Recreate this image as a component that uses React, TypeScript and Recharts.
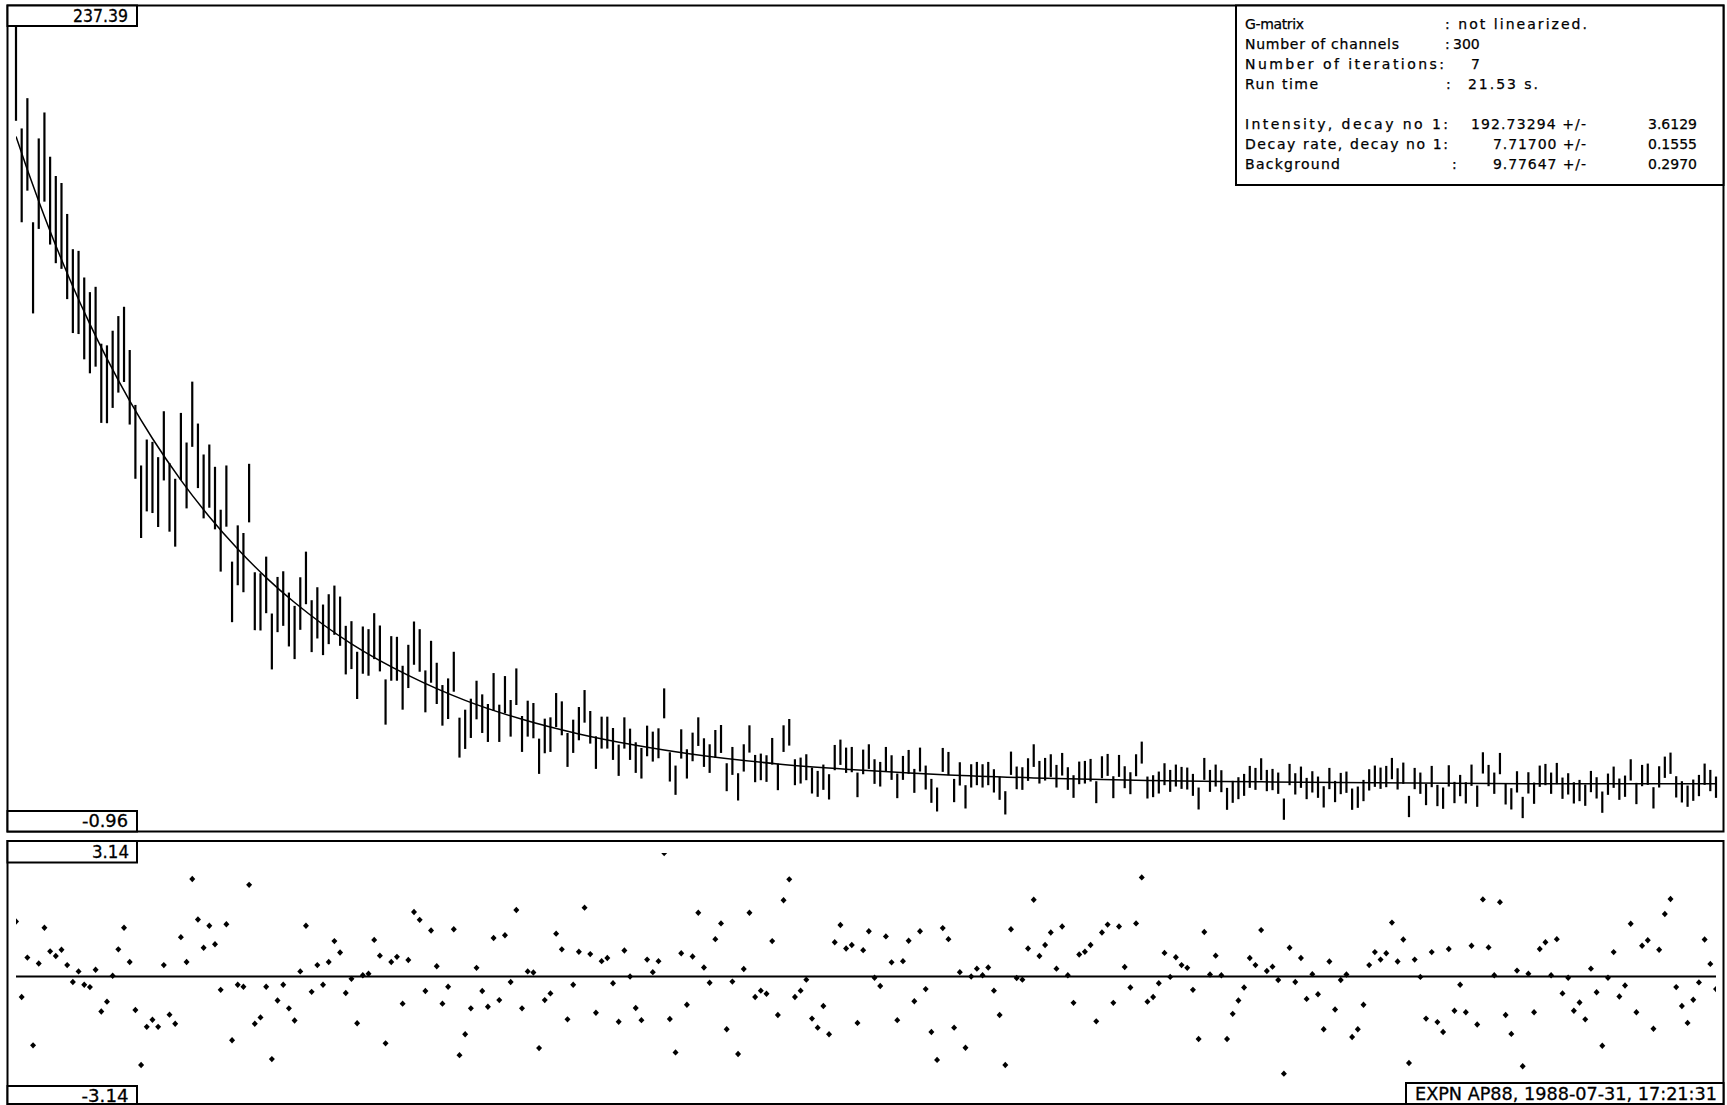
import React from 'react';
import { ComposedChart, Scatter, Line, XAxis, YAxis, ErrorBar, ReferenceLine } from 'recharts';

// Measured counts per channel (centre of each error bar), channels 1..300
const counts = [
  223.3, 192.8, 202.1, 165.0, 190.3, 198.3, 185.2, 179.5, 177.6, 168.4,
  158.0, 157.6, 149.8, 145.5, 147.3, 130.3, 130.0, 134.5, 139.0, 142.0,
  129.1, 112.7, 94.7, 102.6, 102.0, 97.6, 111.5, 96.0, 91.4, 111.3,
  102.6, 121.0, 108.5, 99.3, 102.4, 95.8, 83.0, 96.4, 67.6, 78.6,
  76.4, 97.3, 64.8, 64.6, 69.7, 52.7, 63.8, 65.6, 59.3, 55.4,
  64.1, 71.8, 57.3, 61.3, 56.2, 59.4, 62.1, 58.8, 50.1, 51.6,
  42.5, 50.1, 49.4, 54.3, 50.6, 34.5, 47.6, 47.5, 38.8, 45.2,
  52.2, 50.0, 37.7, 46.6, 40.1, 33.5, 35.5, 43.6, 23.8, 26.3,
  29.6, 35.1, 31.0, 28.2, 37.5, 28.1, 36.7, 29.6, 39.1, 24.9,
  29.5, 28.9, 18.2, 24.3, 24.7, 32.1, 29.6, 20.1, 24.2, 28.0,
  33.2, 26.9, 19.3, 25.3, 25.3, 21.9, 17.0, 25.2, 21.8, 17.8,
  16.1, 22.8, 21.1, 22.1, 34.1, 15.0, 11.0, 21.9, 15.9, 21.0,
  25.6, 19.3, 17.5, 21.9, 23.4, 11.9, 16.8, 9.0, 17.7, 23.4,
  14.5, 15.0, 14.5, 19.7, 12.0, 23.5, 25.4, 13.4, 13.9, 14.9,
  10.9, 9.9, 11.9, 9.0, 17.8, 19.4, 17.0, 17.2, 9.6, 16.5,
  18.1, 13.6, 12.8, 17.3, 14.8, 9.3, 14.7, 16.5, 10.8, 17.2,
  11.8, 7.8, 5.2, 17.1, 16.0, 7.9, 12.9, 6.0, 12.3, 13.0,
  12.3, 13.0, 10.8, 8.6, 4.2, 16.1, 11.7, 11.5, 14.2, 18.4,
  13.4, 14.3, 15.4, 12.2, 15.8, 11.5, 9.1, 13.2, 13.4, 14.0,
  7.4, 14.9, 15.6, 8.9, 15.3, 11.9, 10.1, 15.5, 19.3, 8.8,
  9.2, 10.3, 12.8, 10.8, 12.4, 11.7, 11.5, 9.6, 5.5, 14.4,
  10.8, 12.4, 10.7, 5.4, 7.5, 8.6, 9.6, 12.0, 11.4, 14.3,
  10.9, 11.2, 10.1, 2.3, 12.7, 9.9, 11.9, 8.5, 10.5, 8.9,
  6.0, 11.5, 7.6, 10.0, 10.4, 5.3, 5.9, 7.9, 11.1, 12.2,
  11.6, 12.1, 14.5, 11.4, 13.1, 3.1, 11.5, 10.1, 6.7, 12.1,
  6.4, 5.6, 12.3, 7.3, 9.4, 7.2, 12.5, 6.2, 16.2, 12.4,
  10.1, 16.0, 6.9, 5.4, 10.5, 2.8, 10.2, 7.1, 12.2, 12.7,
  10.1, 13.0, 8.6, 9.9, 7.2, 7.9, 6.5, 10.6, 8.7, 4.4,
  9.8, 11.9, 8.3, 9.2, 14.1, 7.0, 12.4, 12.8, 5.7, 12.0,
  14.9, 16.1, 9.0, 7.5, 6.2, 8.0, 9.4, 12.8, 10.9, 8.9,
];

// Half-length of each error bar
const errors = [
  14.1, 14.1, 13.9, 13.7, 13.6, 13.4, 13.2, 13.1, 12.9, 12.8,
  12.6, 12.5, 12.3, 12.2, 12.0, 11.9, 11.7, 11.6, 11.5, 11.3,
  11.2, 11.1, 10.9, 10.8, 10.7, 10.5, 10.4, 10.3, 10.2, 10.1,
  9.9, 9.8, 9.7, 9.6, 9.5, 9.4, 9.3, 9.2, 9.1, 9.0,
  8.9, 8.8, 8.7, 8.6, 8.5, 8.4, 8.3, 8.2, 8.1, 8.0,
  7.9, 7.9, 7.8, 7.7, 7.6, 7.5, 7.4, 7.4, 7.3, 7.2,
  7.1, 7.1, 7.0, 6.9, 6.9, 6.8, 6.7, 6.6, 6.6, 6.5,
  6.5, 6.4, 6.3, 6.3, 6.2, 6.1, 6.1, 6.0, 6.0, 5.9,
  5.9, 5.8, 5.8, 5.7, 5.7, 5.6, 5.6, 5.5, 5.5, 5.4,
  5.4, 5.3, 5.3, 5.2, 5.2, 5.1, 5.1, 5.1, 5.0, 5.0,
  4.9, 4.9, 4.9, 4.8, 4.8, 4.8, 4.7, 4.7, 4.7, 4.6,
  4.6, 4.6, 4.5, 4.5, 4.5, 4.4, 4.4, 4.4, 4.4, 4.3,
  4.3, 4.3, 4.3, 4.2, 4.2, 4.2, 4.2, 4.1, 4.1, 4.1,
  4.1, 4.0, 4.0, 4.0, 4.0, 4.0, 4.0, 3.9, 3.9, 3.9,
  3.9, 3.9, 3.8, 3.8, 3.8, 3.8, 3.8, 3.8, 3.7, 3.7,
  3.7, 3.7, 3.7, 3.7, 3.7, 3.7, 3.6, 3.6, 3.6, 3.6,
  3.6, 3.6, 3.6, 3.6, 3.5, 3.5, 3.5, 3.5, 3.5, 3.5,
  3.5, 3.5, 3.5, 3.5, 3.5, 3.5, 3.4, 3.4, 3.4, 3.4,
  3.4, 3.4, 3.4, 3.4, 3.4, 3.4, 3.4, 3.4, 3.4, 3.4,
  3.3, 3.3, 3.3, 3.3, 3.3, 3.3, 3.3, 3.3, 3.3, 3.3,
  3.3, 3.3, 3.3, 3.3, 3.3, 3.3, 3.3, 3.3, 3.3, 3.3,
  3.3, 3.3, 3.3, 3.3, 3.3, 3.3, 3.3, 3.3, 3.3, 3.3,
  3.2, 3.2, 3.2, 3.2, 3.2, 3.2, 3.2, 3.2, 3.2, 3.2,
  3.2, 3.2, 3.2, 3.2, 3.2, 3.2, 3.2, 3.2, 3.2, 3.2,
  3.2, 3.2, 3.2, 3.2, 3.2, 3.2, 3.2, 3.2, 3.2, 3.2,
  3.2, 3.2, 3.2, 3.2, 3.2, 3.2, 3.2, 3.2, 3.2, 3.2,
  3.2, 3.2, 3.2, 3.2, 3.2, 3.2, 3.2, 3.2, 3.2, 3.2,
  3.2, 3.2, 3.2, 3.2, 3.2, 3.2, 3.2, 3.2, 3.2, 3.2,
  3.2, 3.2, 3.2, 3.2, 3.2, 3.2, 3.2, 3.2, 3.2, 3.2,
  3.2, 3.2, 3.2, 3.2, 3.2, 3.2, 3.2, 3.2, 3.2, 3.2,
];

// Weighted residuals per channel (lower panel)
const residuals = [
  1.40, -0.52, 0.48, -1.75, 0.33, 1.24, 0.64, 0.52, 0.68, 0.29,
  -0.14, 0.13, -0.21, -0.27, 0.17, -0.89, -0.64, 0.02, 0.69, 1.24,
  0.37, -0.85, -2.25, -1.28, -1.10, -1.28, 0.29, -0.97, -1.20, 1.00,
  0.37, 2.48, 1.45, 0.73, 1.29, 0.82, -0.34, 1.33, -1.62, -0.21,
  -0.26, 2.33, -1.20, -1.04, -0.26, -2.10, -0.61, -0.21, -0.81, -1.12,
  0.13, 1.29, -0.39, 0.29, -0.21, 0.37, 0.90, 0.61, -0.42, -0.06,
  -1.19, 0.03, 0.07, 0.93, 0.53, -1.70, 0.37, 0.50, -0.69, 0.42,
  1.64, 1.44, -0.37, 1.17, 0.26, -0.69, -0.26, 1.20, -2.00, -1.47,
  -0.81, 0.22, -0.37, -0.77, 0.98, -0.60, 1.05, -0.14, 1.69, -0.81,
  0.13, 0.10, -1.82, -0.60, -0.43, 1.09, 0.69, -1.09, -0.21, 0.63,
  1.75, 0.57, -0.92, 0.39, 0.47, -0.17, -1.15, 0.66, 0.00, -0.80,
  -1.11, 0.43, 0.11, 0.39, 3.14, -1.08, -1.93, 0.59, -0.72, 0.51,
  1.62, 0.23, -0.16, 0.95, 1.35, -1.34, -0.13, -1.97, 0.19, 1.62,
  -0.52, -0.36, -0.44, 0.90, -0.98, 1.94, 2.47, -0.52, -0.36, -0.08,
  -1.07, -1.30, -0.75, -1.47, 0.87, 1.31, 0.71, 0.80, -1.18, 0.67,
  1.15, -0.03, -0.24, 1.02, 0.36, -1.11, 0.39, 0.91, -0.63, 1.15,
  -0.32, -1.41, -2.12, 1.23, 0.95, -1.30, 0.11, -1.81, 0.00, 0.20,
  0.03, 0.23, -0.36, -0.98, -2.25, 1.20, -0.04, -0.08, 0.71, 1.95,
  0.52, 0.80, 1.12, 0.20, 1.27, 0.03, -0.67, 0.56, 0.63, 0.80,
  -1.14, 1.12, 1.32, -0.67, 1.27, 0.24, -0.28, 1.35, 2.52, -0.64,
  -0.52, -0.17, 0.60, -0.01, 0.49, 0.29, 0.22, -0.34, -1.59, 1.13,
  0.05, 0.53, 0.03, -1.59, -0.95, -0.61, -0.28, 0.47, 0.29, 1.18,
  0.14, 0.25, -0.09, -2.47, 0.73, -0.14, 0.47, -0.57, 0.06, -0.45,
  -1.34, 0.38, -0.84, -0.09, 0.05, -1.54, -1.34, -0.72, 0.29, 0.62,
  0.43, 0.59, 1.37, 0.38, 0.94, -2.20, 0.43, -0.01, -1.07, 0.62,
  -1.16, -1.41, 0.70, -0.87, -0.21, -0.91, 0.78, -1.22, 1.96, 0.74,
  0.03, 1.89, -0.98, -1.46, 0.15, -2.28, 0.07, -0.91, 0.70, 0.87,
  0.03, 0.95, -0.43, -0.03, -0.87, -0.66, -1.09, 0.20, -0.40, -1.76,
  -0.03, 0.62, -0.51, -0.23, 1.34, -0.91, 0.78, 0.92, -1.33, 0.68,
  1.59, 1.97, -0.27, -0.75, -1.18, -0.59, -0.15, 0.94, 0.32, -0.32,
];

// Fitted decay curve read at selected channels
const fitChannels = [1, 3, 5, 7, 9, 11, 14, 17, 21, 25, 30, 35, 40, 45, 50, 55, 60, 70, 80, 90, 100, 110, 120, 135, 150, 165, 180, 200, 220, 240, 260, 280, 300];
const fitValues = [204.5, 194.5, 185.0, 176.0, 167.5, 159.4, 148.1, 137.7, 125.0, 113.7, 101.2, 90.2, 80.5, 71.9, 64.4, 57.8, 52.0, 42.5, 35.0, 29.3, 24.9, 21.5, 18.8, 15.9, 14.0, 12.6, 11.7, 10.9, 10.5, 10.2, 10.0, 9.9, 9.9];

const channelRange = [1, 300];
const topRange = [-0.96, 237.39];
const topLabels = ['237.39', '-0.96'];
const resRange = [-3.14, 3.14];
const resLabels = ['3.14', '-3.14'];
const stamp = 'EXPN AP88, 1988-07-31, 17:21:31';

const barData = counts.map((c, i) => ({ ch: i + 1, c, e: errors[i] }));
const resData = residuals.map((r, i) => ({ ch: i + 1, r }));
const fitData = fitChannels.map((ch, i) => ({ ch, f: fitValues[i] }));

const FONT = '"DejaVu Sans", sans-serif';

const EmptyShape = () => <g />;
const Diamond = (p: any) => {
  const { cx, cy } = p;
  if (cx == null || cy == null) return <g />;
  return <path d={`M${cx},${cy - 3.2}L${cx + 3},${cy}L${cx},${cy + 3.2}L${cx - 3},${cy}Z`} fill="#000" />;
};

// fixed-width label (box labels)
const T = ({ x, y, len, children, size = 17 }: any) => (
  <text x={x} y={y} fontFamily={FONT} fontSize={size} fill="#000" stroke="#000" strokeWidth={0.3} textLength={len} lengthAdjust="spacingAndGlyphs">
    {children}
  </text>
);

// info-box text: glyphs keep their shape, letter spacing widened to the given length
const I = ({ x, y, len, end, children }: any) => (
  <text
    x={x}
    y={y}
    fontFamily={FONT}
    fontSize={14}
    fill="#000"
    stroke="#000"
    strokeWidth={0.25}
    textAnchor={end ? 'end' : 'start'}
    {...(len ? { textLength: len, lengthAdjust: 'spacing' } : {})}
  >
    {children}
  </text>
);

const rows = [28.5, 48.6, 68.7, 88.8, 129.0, 149.1, 169.2];

export default function App() {
  const W = 1727;
  const H = 1105;
  return (
    <div style={{ position: 'absolute', left: 0, top: 0, width: W, height: H, background: '#fff', overflow: 'hidden' }}>
      <div style={{ position: 'absolute', left: 0, top: 0 }}>
        <ComposedChart width={W} height={832} margin={{ top: 27, right: 11, bottom: 12, left: 16 }}>
          <XAxis type="number" dataKey="ch" domain={channelRange} hide allowDataOverflow />
          <YAxis type="number" domain={topRange} hide allowDataOverflow />
          <Scatter data={barData} dataKey="c" shape={EmptyShape} isAnimationActive={false}>
            <ErrorBar dataKey="e" width={0} stroke="#000" strokeWidth={2.2} direction="y" isAnimationActive={false} />
          </Scatter>
          <Line data={fitData} dataKey="f" type="monotone" dot={false} stroke="#000" strokeWidth={1.5} isAnimationActive={false} />
        </ComposedChart>
      </div>
      <div style={{ position: 'absolute', left: 0, top: 0 }}>
        <ComposedChart width={W} height={H} margin={{ top: 853, right: 11, bottom: 5, left: 16 }}>
          <XAxis type="number" dataKey="ch" domain={channelRange} hide allowDataOverflow />
          <YAxis type="number" domain={resRange} hide allowDataOverflow />
          <ReferenceLine y={0} stroke="#000" strokeWidth={2} />
          <Scatter data={resData} dataKey="r" shape={Diamond} isAnimationActive={false} />
        </ComposedChart>
      </div>
      <svg width={W} height={H} style={{ position: 'absolute', left: 0, top: 0, pointerEvents: 'none' }}>
        <g fill="none" stroke="#000" strokeWidth={2}>
          <rect x={7.5} y={5.5} width={1716} height={826} />
          <rect x={7.5} y={841} width={1716} height={263} />
          <rect x={7.5} y={5.5} width={129.5} height={20.5} fill="#fff" />
          <rect x={7.5} y={811} width={129.5} height={20.5} fill="#fff" />
          <rect x={7.5} y={841} width={129.5} height={21.5} fill="#fff" />
          <rect x={7.5} y={1086} width={129.5} height={18} fill="#fff" />
          <rect x={1406} y={1083} width={317.5} height={21} fill="#fff" />
          <rect x={1236} y={5.5} width={487.5} height={179.5} fill="#fff" />
        </g>
        <T x={73} y={21.7} len={55}>{topLabels[0]}</T>
        <T x={82} y={827} len={46}>{topLabels[1]}</T>
        <T x={92} y={858} len={37}>{resLabels[0]}</T>
        <T x={81.5} y={1101.5} len={47}>{resLabels[1]}</T>
        <T x={1415} y={1100} len={302}>{stamp}</T>

        <I x={1245} y={rows[0]} len={59}>G-matrix</I>
        <I x={1445} y={rows[0]} len={142}>: not linearized.</I>
        <I x={1245} y={rows[1]} len={154}>Number of channels</I>
        <I x={1445} y={rows[1]}>:</I>
        <I x={1453} y={rows[1]}>300</I>
        <I x={1245} y={rows[2]} len={199}>Number of iterations:</I>
        <I x={1471} y={rows[2]}>7</I>
        <I x={1245} y={rows[3]} len={73}>Run time</I>
        <I x={1446} y={rows[3]}>:</I>
        <I x={1468} y={rows[3]} len={70}>21.53 s.</I>

        <I x={1245} y={rows[4]} len={203}>Intensity,  decay no 1:</I>
        <I x={1471} y={rows[4]} len={115}>192.73294 +/-</I>
        <I x={1697} y={rows[4]} end>3.6129</I>

        <I x={1245} y={rows[5]} len={203}>Decay rate, decay no 1:</I>
        <I x={1493} y={rows[5]} len={93}>7.71700 +/-</I>
        <I x={1697} y={rows[5]} end>0.1555</I>

        <I x={1245} y={rows[6]} len={95}>Background</I>
        <I x={1452} y={rows[6]}>:</I>
        <I x={1493} y={rows[6]} len={93}>9.77647 +/-</I>
        <I x={1697} y={rows[6]} end>0.2970</I>
      </svg>
    </div>
  );
}
